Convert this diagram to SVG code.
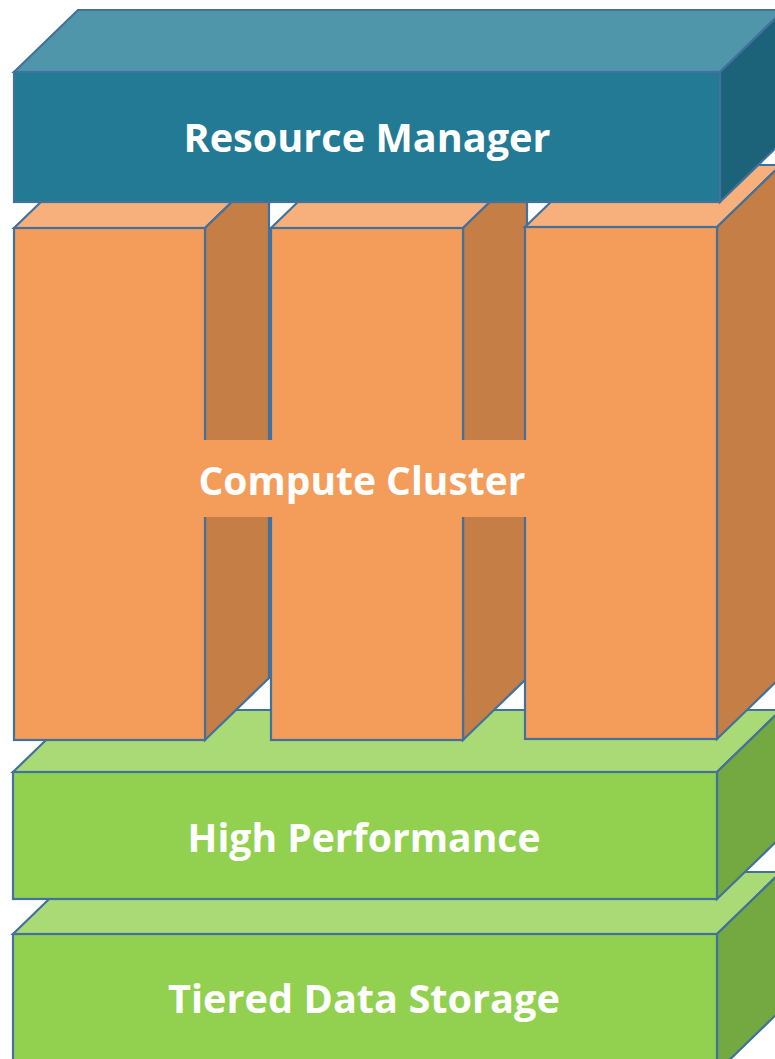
<svg xmlns="http://www.w3.org/2000/svg" width="775" height="1059" viewBox="0 0 775 1059">
<style>
.s{stroke:#41719C;stroke-width:2.2;stroke-linejoin:miter}
.bf{fill:#227A94}.bt{fill:#4F96AB}.bs{fill:#1C6278}
.of{fill:#F49C59}.ot{fill:#F7B07B}.os{fill:#C57E45}
.gf{fill:#92D050}.gt{fill:#A9DA75}.gs{fill:#74A840}
.t{font-family:"Open Sans","Liberation Sans",sans-serif;font-weight:700;font-size:40px;fill:#FFFFFF;text-anchor:middle}
</style>
<rect width="775" height="1059" fill="#FFFFFF"/>
<g id="tiered-data-storage">
<polygon class="s gt" points="13,934 77,872 781,872 717,934"/>
<polygon class="s gs" points="717,934 781,872 781,1010 717,1072"/>
<rect class="s gf" x="13" y="934" width="704" height="140"/>
<text class="t" x="364" y="1013" textLength="392" lengthAdjust="spacingAndGlyphs">Tiered Data Storage</text>
</g>
<g id="high-performance">
<polygon class="s gt" points="13,772 77,710 781,710 717,772"/>
<polygon class="s gs" points="717,772 781,710 781,837 717,899"/>
<rect class="s gf" x="13" y="772" width="704" height="127"/>
<text class="t" x="364" y="852" textLength="353" lengthAdjust="spacingAndGlyphs">High Performance</text>
</g>
<g id="compute-cluster">
<g id="compute-node-1">
<polygon class="s ot" points="14,228 78,166 269,166 205,228"/>
<polygon class="s os" points="205,228 269,166 269,678 205,740"/>
<rect class="s of" x="14" y="228" width="191" height="512"/>
</g>
<g id="compute-node-2">
<polygon class="s ot" points="271,228 335,166 527,166 463,228"/>
<polygon class="s os" points="463,228 527,166 527,678 463,740"/>
<rect class="s of" x="271" y="228" width="192" height="512"/>
</g>
<g id="compute-node-3">
<polygon class="s ot" points="525,227 589,165 781,165 717,227"/>
<polygon class="s os" points="717,227 781,165 781,677 717,739"/>
<rect class="s of" x="525" y="227" width="192" height="512"/>
</g>
<rect class="of" x="192" y="440" width="340" height="77"/>
<text class="t" x="362" y="495" textLength="327" lengthAdjust="spacingAndGlyphs">Compute Cluster</text>
</g>
<g id="resource-manager">
<polygon class="s bt" points="14,72 78,10 784,10 720,72"/>
<polygon class="s bs" points="720,72 784,10 784,140 720,202"/>
<rect class="s bf" x="14" y="72" width="706" height="130"/>
<text class="t" x="367" y="152" textLength="367" lengthAdjust="spacingAndGlyphs">Resource Manager</text>
</g>
<g id="connectors"/>
</svg>
